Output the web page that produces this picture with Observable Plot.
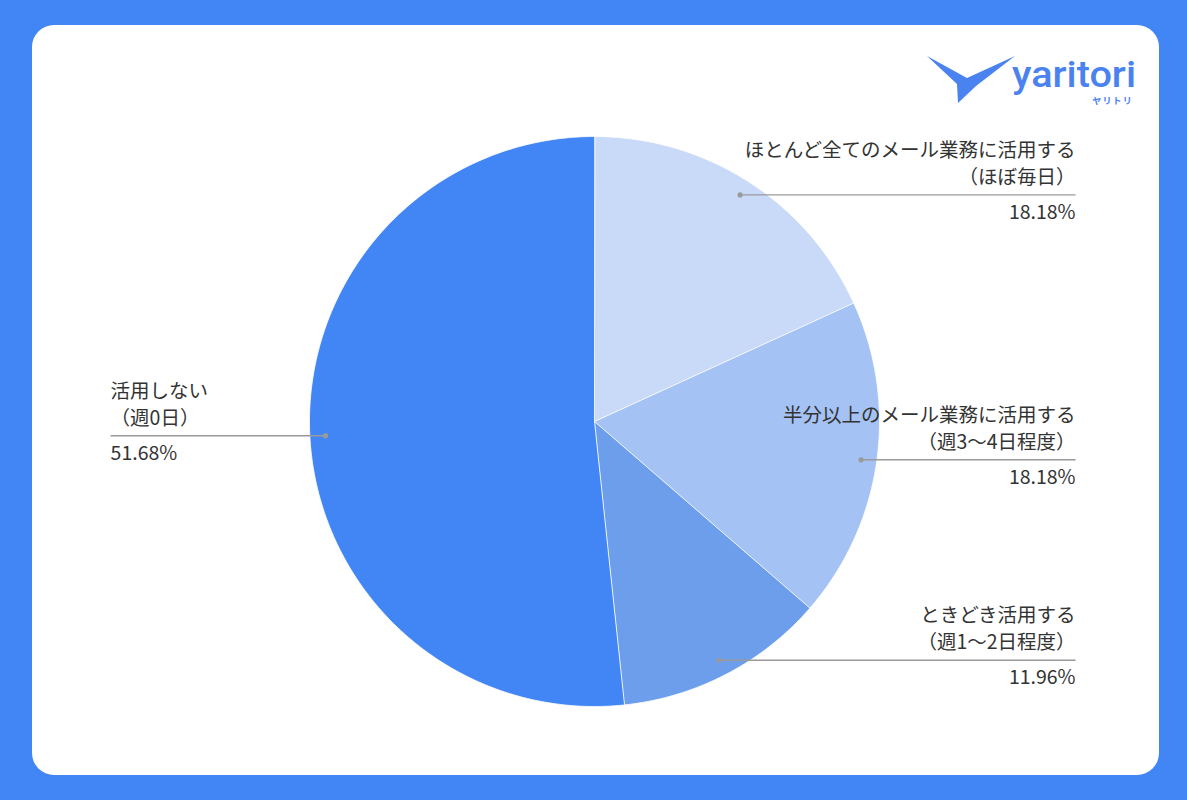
<!DOCTYPE html>
<html>
<head>
<meta charset="utf-8">
<script src="https://cdn.jsdelivr.net/npm/d3@7"></script>
<script src="https://cdn.jsdelivr.net/npm/@observablehq/plot@0.6"></script>
<style>
  html, body { margin: 0; padding: 0; background: #4285F4; }
  #wrap { position: relative; width: 1187px; height: 800px; overflow: hidden; background: #4285F4; }
  #card { position: absolute; left: 32px; top: 25px; width: 1127px; height: 750px; background: #fff; border-radius: 22px; }
  #chart { position: absolute; left: 0; top: 0; }
  #logo { position: absolute; left: 920px; top: 45px; }
</style>
</head>
<body>
<div id="wrap">
  <div id="card"></div>
  <div id="chart"></div>
  <svg id="logo" width="230" height="70" viewBox="920 45 230 70">
    <path d="M927,56 L967,78 L1015,56 L976,86 L958,103 L957,84 Z" fill="#4A82F0"/>
    <text x="1012" y="87" font-family="Roboto, 'Noto Sans', sans-serif" font-size="36" font-weight="500" fill="#4A82F0" textLength="124" lengthAdjust="spacingAndGlyphs">yaritori</text>
    <text x="1133" y="104" text-anchor="end" font-family="'Noto Sans CJK JP', sans-serif" font-size="9" font-weight="700" fill="#4A82F0" letter-spacing="1.2">ヤリトリ</text>
  </svg>
</div>
<script>
// ---- data ----
const categories = ["ほぼ毎日", "週3〜4日", "週1〜2日", "週0日"];
const labelLine1 = ["ほとんど全てのメール業務に活用する", "半分以上のメール業務に活用する", "ときどき活用する", "活用しない"];
const labelLine2 = ["（ほぼ毎日）", "（週3〜4日程度）", "（週1〜2日程度）", "（週0日）"];
const values = [18.18, 18.18, 11.96, 51.68];
const percentLabels = ["18.18%", "18.18%", "11.96%", "51.68%"];
const sliceColors = ["#C9DAF8", "#A4C2F4", "#6D9EEB", "#4285F4"];

// ---- build geometry in unit-radius data space ----
const arcs = d3.pie().sort(null).value(d => d)(values);
const polys = [];
arcs.forEach((a, i) => {
  polys.push({cat: categories[i], x: 0, y: 0});
  const n = Math.max(8, Math.ceil((a.endAngle - a.startAngle) * 90));
  for (let k = 0; k <= n; k++) {
    const t = a.startAngle + (a.endAngle - a.startAngle) * k / n;
    polys.push({cat: categories[i], x: Math.sin(t), y: Math.cos(t)});
  }
});

const dotR = 0.945;
const labels = arcs.map((a, i) => {
  const m = (a.startAngle + a.endAngle) / 2;
  const dx = Math.sin(m) * dotR, dy = Math.cos(m) * dotR;
  const right = dx >= 0;
  return {
    cat: categories[i], l1: labelLine1[i], l2: labelLine2[i], pct: percentLabels[i],
    dx, dy, right, lx: right ? 1.688 : -1.698
  };
});
const rightL = labels.filter(d => d.right);
const leftL = labels.filter(d => !d.right);

const R = 285, cx = 594, cy = 421, W = 1187, H = 800;
const font = "'Noto Sans CJK JP', 'Noto Sans', sans-serif";
const fs = 19.5;

const textMarks = (arr, anchor) => [
  Plot.text(arr, {x: "lx", y: "dy", text: "l1", textAnchor: anchor, lineAnchor: "middle", dy: -44, fontSize: fs, fill: "#333"}),
  Plot.text(arr, {x: "lx", y: "dy", text: "l2", textAnchor: anchor, lineAnchor: "middle", dy: -17, fontSize: fs, fill: "#333"}),
  Plot.text(arr, {x: "lx", y: "dy", text: "pct", textAnchor: anchor, lineAnchor: "middle", dy: 18, fontSize: fs, fill: "#333"})
];

const chart = Plot.plot({
  width: W, height: H,
  margin: 0,
  style: {background: "transparent", fontFamily: font},
  x: {domain: [-cx / R, (W - cx) / R], axis: null},
  y: {domain: [-(H - cy) / R, cy / R], axis: null},
  color: {domain: categories, range: sliceColors},
  marks: [
    Plot.line(polys, {x: "x", y: "y", z: "cat", fill: "cat", stroke: "#fff", strokeWidth: 0.8, curve: "linear-closed"}),
    Plot.link(labels, {x1: "dx", y1: "dy", x2: "lx", y2: "dy", stroke: "#9a9a9a", strokeWidth: 1.4}),
    Plot.dot(labels, {x: "dx", y: "dy", r: 2.6, fill: "#9a9a9a"}),
    ...textMarks(rightL, "end"),
    ...textMarks(leftL, "start")
  ]
});
document.getElementById("chart").appendChild(chart);
</script>
</body>
</html>
